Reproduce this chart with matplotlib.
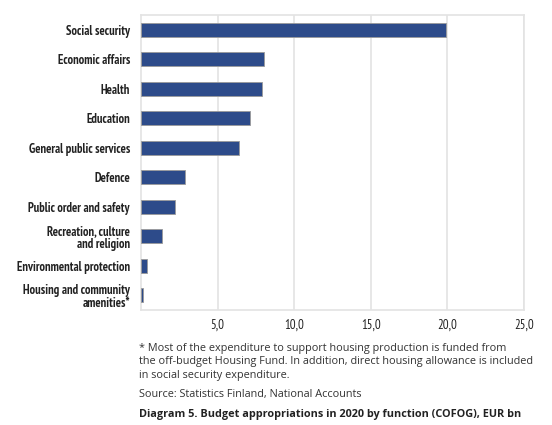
import matplotlib
matplotlib.use("Agg")
import matplotlib.pyplot as plt
from matplotlib import font_manager

categories = ["Social security", "Economic affairs", "Health", "Education",
              "General public services", "Defence", "Public order and safety",
              "Recreation, culture\nand religion", "Environmental protection",
              "Housing and community\namenities*"]
values = [19.9, 8.0, 7.9, 7.1, 6.4, 2.9, 2.2, 1.4, 0.4, 0.1]
xticks = [5, 10, 15, 20, 25]
xticklabels = ["5,0", "10,0", "15,0", "20,0", "25,0"]

names = {f.name for f in font_manager.fontManager.ttflist}
def pick(cands, default="DejaVu Sans"):
    for c in cands:
        if c in names:
            return c
    return default

label_font = pick(["PT Sans Narrow", "Fira Sans Condensed", "Roboto Condensed",
                   "Open Sans Condensed", "Encode Sans Condensed", "Liberation Sans Narrow"])
text_font = pick(["Open Sans", "Noto Sans"])

fig = plt.figure(figsize=(5.52, 4.25), dpi=100)
W, H = 552, 425
ax = fig.add_axes([141 / W, 1 - 310 / H, (524 - 141) / W, (310 - 15) / H])

y = list(range(len(categories)))
ax.barh(y, values, height=0.47, color="#2D4B8A", edgecolor="#9a9a9a", linewidth=0.6, zorder=3)
ax.set_ylim(len(categories) - 0.5, -0.5)
ax.set_xlim(0, 25)
ax.set_yticks(y)
ax.set_yticklabels(categories, fontfamily=label_font, fontweight="bold", fontsize=9,
                   color="#222222", linespacing=1.05)
ax.set_xticks(xticks)
ax.set_xticklabels(xticklabels, fontfamily=label_font, fontsize=9.3, color="#222222")
ax.tick_params(axis="both", length=0)
ax.tick_params(axis="y", pad=8)
ax.tick_params(axis="x", pad=6)
ax.grid(axis="x", color="#e3e3e3", linewidth=1.2, zorder=0)
for s in ax.spines.values():
    s.set_color("#e3e3e3")
    s.set_linewidth(1.2)

tkw = dict(fontfamily=text_font, fontstretch="normal", color="#333333", va="top")
fig.text(139 / W, 1 - 343 / H,
         "* Most of the expenditure to support housing production is funded from\n"
         "the off-budget Housing Fund. In addition, direct housing allowance is included\n"
         "in social security expenditure.",
         fontsize=7.8, linespacing=1.3, **tkw)
fig.text(139 / W, 1 - 389 / H, "Source: Statistics Finland, National Accounts",
         fontsize=7.8, **tkw)
fig.text(139 / W, 1 - 409 / H,
         "Diagram 5. Budget appropriations in 2020 by function (COFOG), EUR bn",
         fontsize=7.8, fontweight="bold", **{**tkw, "color": "#222222"})

fig.savefig("out.png", dpi=100, facecolor="white")
